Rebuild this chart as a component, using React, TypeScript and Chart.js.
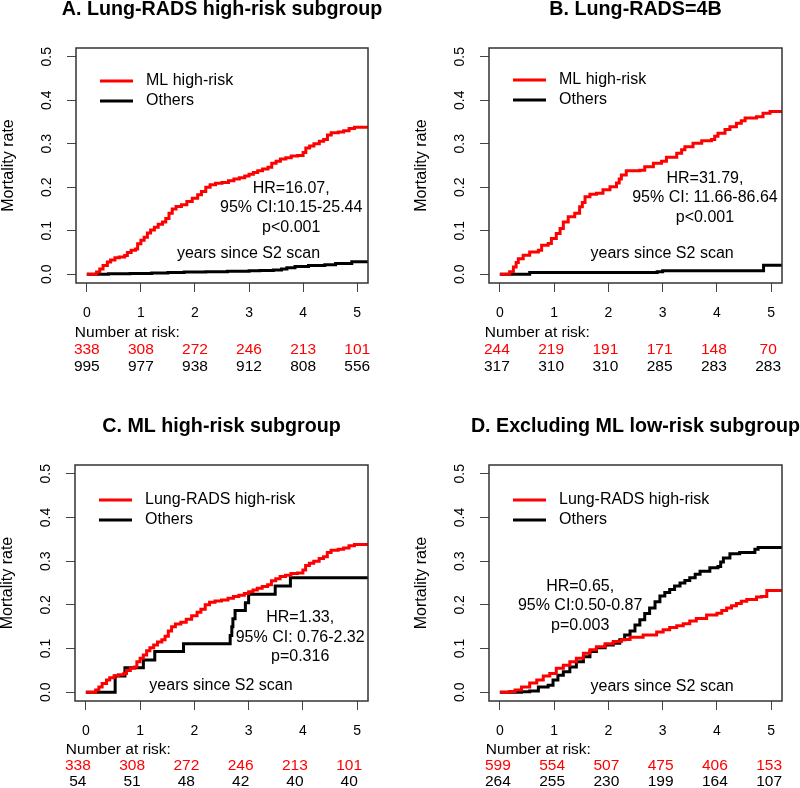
import React, { useEffect, useRef } from "react";
import { Chart, registerables } from "chart.js";
Chart.register(...registerables);

const FONT = "'Liberation Sans', Arial, sans-serif";

const X_TICKS = [0, 1, 2, 3, 4, 5];
const Y_TICKS = [0, 0.1, 0.2, 0.3, 0.4, 0.5];
const X_MIN = -0.2;
const X_MAX = 5.2;
const Y_MIN = -0.02;
const Y_MAX = 0.52;

// [years, mortality rate]
const A_ML_HIGH: [number, number][] = [
  [0, 0], [0.18, 0.005], [0.24, 0.012], [0.3, 0.02], [0.38, 0.028], [0.44, 0.033], [0.52, 0.038],
  [0.6, 0.04], [0.7, 0.043], [0.75, 0.05], [0.82, 0.055], [0.9, 0.058], [0.94, 0.07], [1.0, 0.078],
  [1.06, 0.085], [1.12, 0.095], [1.18, 0.102], [1.25, 0.108], [1.32, 0.115], [1.4, 0.12], [1.46, 0.128],
  [1.52, 0.14], [1.58, 0.15], [1.65, 0.156], [1.75, 0.16], [1.85, 0.167], [1.95, 0.175], [2.05, 0.183],
  [2.12, 0.19], [2.2, 0.2], [2.28, 0.206], [2.38, 0.209], [2.5, 0.211], [2.62, 0.215], [2.72, 0.219],
  [2.82, 0.222], [2.92, 0.226], [3.0, 0.23], [3.08, 0.234], [3.16, 0.238], [3.25, 0.242], [3.35, 0.246],
  [3.42, 0.255], [3.5, 0.26], [3.58, 0.265], [3.68, 0.268], [3.78, 0.272], [3.9, 0.273], [4.0, 0.28],
  [4.05, 0.29], [4.12, 0.295], [4.2, 0.3], [4.3, 0.306], [4.38, 0.31], [4.45, 0.32], [4.52, 0.325],
  [4.65, 0.327], [4.75, 0.33], [4.85, 0.335], [4.95, 0.338], [5.2, 0.338],
];
const A_OTHERS: [number, number][] = [
  [0, 0], [0.4, 0.001], [0.8, 0.002], [1.2, 0.003], [1.5, 0.004], [1.8, 0.005], [2.2, 0.006],
  [2.6, 0.007], [3.0, 0.008], [3.2, 0.009], [3.45, 0.01], [3.6, 0.012], [3.7, 0.015], [3.85, 0.018],
  [4.1, 0.02], [4.4, 0.022], [4.6, 0.025], [4.9, 0.029], [5.2, 0.029],
];
const B_ML_HIGH: [number, number][] = [
  [0, 0], [0.18, 0.006], [0.25, 0.017], [0.3, 0.027], [0.34, 0.036], [0.43, 0.044], [0.55, 0.051],
  [0.71, 0.055], [0.77, 0.067], [0.89, 0.071], [0.95, 0.082], [1.04, 0.094], [1.11, 0.105], [1.17, 0.12],
  [1.26, 0.132], [1.38, 0.14], [1.47, 0.155], [1.52, 0.165], [1.57, 0.178], [1.66, 0.184], [1.78, 0.186],
  [1.9, 0.194], [2.03, 0.201], [2.15, 0.21], [2.2, 0.219], [2.24, 0.228], [2.33, 0.238], [2.58, 0.239],
  [2.67, 0.247], [2.83, 0.255], [2.98, 0.26], [3.07, 0.269], [3.26, 0.278], [3.35, 0.286], [3.41, 0.293],
  [3.56, 0.301], [3.72, 0.307], [3.9, 0.31], [3.96, 0.317], [4.02, 0.324], [4.15, 0.333], [4.24, 0.339],
  [4.36, 0.347], [4.45, 0.353], [4.52, 0.359], [4.73, 0.362], [4.85, 0.37], [4.98, 0.374], [5.2, 0.374],
];
const B_OTHERS: [number, number][] = [
  [0, 0], [0.55, 0.004], [2.9, 0.006], [3.0, 0.008], [4.86, 0.021], [5.2, 0.021],
];
const C_LR_HIGH: [number, number][] = A_ML_HIGH;
const C_OTHERS: [number, number][] = [
  [0, 0], [0.54, 0.037], [0.72, 0.056], [1.06, 0.074], [1.27, 0.093], [1.8, 0.111], [2.66, 0.13],
  [2.69, 0.15], [2.71, 0.168], [2.75, 0.187], [2.94, 0.205], [3.0, 0.224], [3.49, 0.243], [3.77, 0.262],
  [5.2, 0.262],
];
const D_LR_HIGH: [number, number][] = [
  [0, 0], [0.18, 0.002], [0.28, 0.005], [0.4, 0.012], [0.55, 0.021], [0.68, 0.028], [0.8, 0.037],
  [0.92, 0.043], [1.04, 0.055], [1.17, 0.062], [1.29, 0.07], [1.41, 0.078], [1.54, 0.089], [1.66, 0.097],
  [1.78, 0.104], [1.94, 0.111], [2.09, 0.116], [2.24, 0.121], [2.4, 0.126], [2.64, 0.131], [2.89, 0.138],
  [3.01, 0.143], [3.13, 0.148], [3.26, 0.152], [3.38, 0.157], [3.5, 0.163], [3.62, 0.169], [3.81, 0.177],
  [4.0, 0.181], [4.09, 0.187], [4.18, 0.193], [4.27, 0.198], [4.36, 0.203], [4.45, 0.208], [4.55, 0.212],
  [4.73, 0.218], [4.82, 0.219], [4.92, 0.233], [5.2, 0.233],
];
const D_OTHERS: [number, number][] = [
  [0, 0], [0.4, 0.001], [0.55, 0.003], [0.71, 0.012], [0.89, 0.016], [0.98, 0.028], [1.07, 0.039],
  [1.17, 0.047], [1.29, 0.058], [1.41, 0.07], [1.54, 0.081], [1.66, 0.093], [1.78, 0.102], [1.94, 0.108],
  [2.09, 0.112], [2.21, 0.12], [2.3, 0.131], [2.4, 0.14], [2.49, 0.154], [2.58, 0.166], [2.67, 0.18],
  [2.76, 0.193], [2.86, 0.207], [2.95, 0.22], [3.04, 0.228], [3.13, 0.235], [3.22, 0.243], [3.32, 0.25],
  [3.41, 0.256], [3.5, 0.262], [3.6, 0.27], [3.69, 0.277], [3.87, 0.285], [4.02, 0.288], [4.07, 0.298],
  [4.12, 0.307], [4.24, 0.317], [4.42, 0.32], [4.7, 0.327], [4.76, 0.331], [5.2, 0.331],
];

const A_RISK_RED = [338, 308, 272, 246, 213, 101];
const A_RISK_BLACK = [995, 977, 938, 912, 808, 556];
const B_RISK_RED = [244, 219, 191, 171, 148, 70];
const B_RISK_BLACK = [317, 310, 310, 285, 283, 283];
const C_RISK_RED = [338, 308, 272, 246, 213, 101];
const C_RISK_BLACK = [54, 51, 48, 42, 40, 40];
const D_RISK_RED = [599, 554, 507, 475, 406, 153];
const D_RISK_BLACK = [264, 255, 230, 199, 164, 107];

const A_STATS = ["HR=16.07,", "95% CI:10.15-25.44", "p<0.001"];
const B_STATS = ["HR=31.79,", "95% CI: 11.66-86.64", "p<0.001"];
const C_STATS = ["HR=1.33,", "95% CI: 0.76-2.32", "p=0.316"];
const D_STATS = ["HR=0.65,", "95% CI:0.50-0.87", "p=0.003"];

const Y_LABEL = "Mortality rate";
const X_NOTE = "years since S2 scan";
const RISK_LABEL = "Number at risk:";
const OTHERS_LABEL = "Others";

type Panel = {
  title: string;
  red: [number, number][];
  black: [number, number][];
  redName: string;
  riskRed: number[];
  riskBlack: number[];
  stats: string[];
  statsAt: [number, number];
  noteAt: [number, number];
  pos: { left: number; top: number };
  area: { l: number; r: number; t: number; b: number };
  riskDx: number;
  riskRows: number[];
  legendDy: number[];
};

const PANELS: Panel[] = [
  {
    title: "A. Lung-RADS high-risk subgroup", red: A_ML_HIGH, black: A_OTHERS, redName: "ML high-risk",
    riskRed: A_RISK_RED, riskBlack: A_RISK_BLACK, stats: A_STATS, statsAt: [3.78, 0.198], noteAt: [2.99, 0.048],
    pos: { left: 0, top: 0 }, area: { l: 76, r: 368, t: 48, b: 283 }, riskDx: 0, riskRows: [50, 67, 84], legendDy: [33, 53],
  },
  {
    title: "B. Lung-RADS=4B", red: B_ML_HIGH, black: B_OTHERS, redName: "ML high-risk",
    riskRed: B_RISK_RED, riskBlack: B_RISK_BLACK, stats: B_STATS, statsAt: [3.78, 0.221], noteAt: [2.99, 0.048],
    pos: { left: 400, top: 0 }, area: { l: 89, r: 382, t: 48, b: 283 }, riskDx: -3, riskRows: [50, 67, 84], legendDy: [32, 52],
  },
  {
    title: "C. ML high-risk subgroup", red: C_LR_HIGH, black: C_OTHERS, redName: "Lung-RADS high-risk",
    riskRed: C_RISK_RED, riskBlack: C_RISK_BLACK, stats: C_STATS, statsAt: [3.95, 0.17], noteAt: [2.49, 0.016],
    pos: { left: 0, top: 394 }, area: { l: 75, r: 368, t: 71, b: 307 }, riskDx: -8, riskRows: [49, 65, 81], legendDy: [35, 55],
  },
  {
    title: "D. Excluding ML low-risk subgroup", red: D_LR_HIGH, black: D_OTHERS, redName: "Lung-RADS high-risk",
    riskRed: D_RISK_RED, riskBlack: D_RISK_BLACK, stats: D_STATS, statsAt: [1.48, 0.242], noteAt: [2.99, 0.012],
    pos: { left: 400, top: 394 }, area: { l: 89, r: 382, t: 71, b: 307 }, riskDx: -2, riskRows: [49, 65, 81], legendDy: [35, 55],
  },
];

const W = 400;
const H = 394;
const RED = "#ff0000";

function PanelChart({ p }: { p: Panel }) {
  const ref = useRef<HTMLCanvasElement | null>(null);
  useEffect(() => {
    if (!ref.current) return;
    const deco = {
      id: "deco",
      afterDraw(chart: any) {
        const { ctx, chartArea } = chart;
        const { left, right, top, bottom } = chartArea;
        const xs = chart.scales.x;
        const ys = chart.scales.y;
        ctx.save();
        // box
        ctx.strokeStyle = "#333";
        ctx.lineWidth = 1.5;
        ctx.strokeRect(left, top, right - left, bottom - top);
        // y tick labels (rotated)
        ctx.fillStyle = "#000";
        ctx.font = `14px ${FONT}`;
        ctx.textAlign = "center";
        ctx.textBaseline = "middle";
        Y_TICKS.forEach((v) => {
          ctx.save();
          ctx.translate(left - 29, ys.getPixelForValue(v));
          ctx.rotate(-Math.PI / 2);
          ctx.fillText(v.toFixed(1), 0, 0);
          ctx.restore();
        });
        // y label
        ctx.save();
        ctx.font = `16px ${FONT}`;
        ctx.translate(left - 67, (top + bottom) / 2);
        ctx.rotate(-Math.PI / 2);
        ctx.fillText(Y_LABEL, 0, 0);
        ctx.restore();
        // title
        ctx.font = `bold 19.7px ${FONT}`;
        ctx.textBaseline = "alphabetic";
        ctx.fillText(p.title, (left + right) / 2, top - 33);
        // legend
        ctx.textBaseline = "middle";
        const ly1 = top + p.legendDy[0];
        const ly2 = top + p.legendDy[1];
        ctx.lineWidth = 3;
        ctx.strokeStyle = RED;
        ctx.beginPath();
        ctx.moveTo(left + 24, ly1);
        ctx.lineTo(left + 57, ly1);
        ctx.stroke();
        ctx.strokeStyle = "#000";
        ctx.beginPath();
        ctx.moveTo(left + 24, ly2);
        ctx.lineTo(left + 57, ly2);
        ctx.stroke();
        ctx.font = `16px ${FONT}`;
        ctx.textAlign = "left";
        ctx.fillText(p.redName, left + 70, ly1);
        ctx.fillText(OTHERS_LABEL, left + 70, ly2);
        // stats
        ctx.textAlign = "center";
        const sx = xs.getPixelForValue(p.statsAt[0]);
        const sy = ys.getPixelForValue(p.statsAt[1]);
        p.stats.forEach((s, i) => ctx.fillText(s, sx, sy + i * 19.5));
        ctx.fillText(X_NOTE, xs.getPixelForValue(p.noteAt[0]), ys.getPixelForValue(p.noteAt[1]));
        // number at risk
        ctx.font = `15.5px ${FONT}`;
        ctx.textAlign = "left";
        ctx.fillText(RISK_LABEL, xs.getPixelForValue(0) + p.riskDx - 12, bottom + p.riskRows[0]);
        ctx.textAlign = "center";
        X_TICKS.forEach((t, i) => {
          const px = xs.getPixelForValue(t) + p.riskDx;
          ctx.fillStyle = RED;
          ctx.fillText(String(p.riskRed[i]), px, bottom + p.riskRows[1]);
          ctx.fillStyle = "#000";
          ctx.fillText(String(p.riskBlack[i]), px, bottom + p.riskRows[2]);
        });
        ctx.restore();
      },
    };
    const grid = { drawOnChartArea: false, drawTicks: true, tickLength: 9, color: "#444", lineWidth: 1 };
    const chart = new Chart(ref.current, {
      type: "line",
      data: {
        datasets: [
          {
            data: p.red.map(([x, y]) => ({ x, y })),
            borderColor: RED, borderWidth: 3, stepped: true, pointRadius: 0, fill: false,
          },
          {
            data: p.black.map(([x, y]) => ({ x, y })),
            borderColor: "#000", borderWidth: 3, stepped: true, pointRadius: 0, fill: false,
          },
        ],
      },
      options: {
        animation: false,
        responsive: false,
        events: [],
        layout: { padding: { left: 0, right: W - p.area.r, top: p.area.t, bottom: 0 } },
        plugins: { legend: { display: false }, tooltip: { enabled: false }, title: { display: false } },
        scales: {
          x: {
            type: "linear", min: X_MIN, max: X_MAX,
            afterBuildTicks: (s: any) => { s.ticks = X_TICKS.map((v) => ({ value: v })); },
            afterFit: (s: any) => { s.height = H - p.area.b; },
            grid, border: { display: false },
            ticks: { font: { family: FONT, size: 14 }, color: "#000", padding: 13, maxRotation: 0, autoSkip: false, callback: (v: any) => String(v) },
          },
          y: {
            type: "linear", min: Y_MIN, max: Y_MAX,
            afterBuildTicks: (s: any) => { s.ticks = Y_TICKS.map((v) => ({ value: v })); },
            afterFit: (s: any) => { s.width = p.area.l; },
            grid, border: { display: false },
            ticks: { display: false },
          },
        },
      } as any,
      plugins: [deco],
    });
    return () => chart.destroy();
  }, [p]);
  return (
    <canvas
      ref={ref}
      width={W}
      height={H}
      style={{ position: "absolute", left: p.pos.left, top: p.pos.top, width: W, height: H }}
    />
  );
}

export default function App() {
  return (
    <div style={{ position: "fixed", left: 0, top: 0, width: 800, height: 788, background: "#fff", overflow: "hidden" }}>
      {PANELS.map((p, i) => (
        <PanelChart key={i} p={p} />
      ))}
    </div>
  );
}
